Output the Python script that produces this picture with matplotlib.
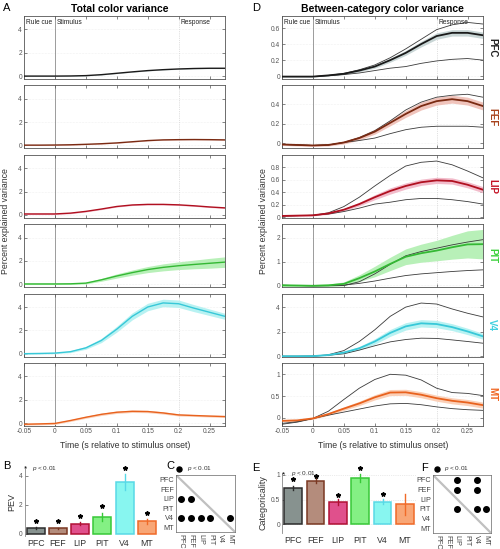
import numpy as np
import matplotlib
matplotlib.use("Agg")
import matplotlib.pyplot as plt

plt.rcParams['font.family'] = ['Liberation Sans', 'DejaVu Sans']
plt.rcParams['mathtext.fontset'] = 'custom'
plt.rcParams['mathtext.it'] = 'Liberation Sans:italic'
plt.rcParams['mathtext.rm'] = 'Liberation Sans'

# ---------------- data ----------------
areas = ["PFC", "FEF", "LIP", "PIT", "V4", "MT"]
t = [-0.05, -0.025, 0, 0.025, 0.05, 0.075, 0.1, 0.125, 0.15, 0.175, 0.2, 0.225, 0.25, 0.275]
xticks = [-0.05, 0, 0.05, 0.1, 0.15, 0.2, 0.25]
xticklabels = ["-0.05", "0", "0.05", "0.1", "0.15", "0.2", "0.25"]

# Panel A: total color variance (mean, sem)
tot_pfc = [0, 0, 0, 0.01, 0.04, 0.12, 0.24, 0.36, 0.47, 0.55, 0.61, 0.65, 0.67, 0.67]
tot_fef = [0.03, 0.03, 0.04, 0.06, 0.10, 0.15, 0.22, 0.32, 0.42, 0.48, 0.50, 0.51, 0.50, 0.48]
tot_lip = [0.08, 0.08, 0.08, 0.15, 0.30, 0.50, 0.72, 0.85, 0.90, 0.90, 0.86, 0.78, 0.68, 0.60]
tot_pit = [0.03, 0.03, 0.03, 0.04, 0.10, 0.38, 0.71, 1.00, 1.26, 1.45, 1.59, 1.70, 1.80, 1.90]
tot_v4 = [0, 0.02, 0.05, 0.17, 0.50, 1.13, 2.10, 3.20, 4.00, 4.35, 4.28, 3.90, 3.55, 3.20]
tot_mt = [-0.10, -0.07, -0.03, 0.22, 0.50, 0.75, 0.93, 1.01, 0.99, 0.87, 0.70, 0.65, 0.60, 0.56]
sem_pfc = [0.03, 0.03, 0.03, 0.03, 0.03, 0.03, 0.03, 0.03, 0.03, 0.03, 0.03, 0.03, 0.03, 0.03]
sem_fef = [0.03, 0.03, 0.03, 0.03, 0.03, 0.03, 0.03, 0.03, 0.03, 0.03, 0.03, 0.03, 0.03, 0.03]
sem_lip = [0.05, 0.05, 0.05, 0.05, 0.05, 0.05, 0.05, 0.05, 0.05, 0.05, 0.05, 0.05, 0.05, 0.05]
sem_pit = [0.05, 0.05, 0.05, 0.05, 0.07, 0.12, 0.18, 0.22, 0.26, 0.30, 0.33, 0.37, 0.42, 0.45]
sem_v4 = [0.05, 0.05, 0.05, 0.08, 0.12, 0.18, 0.25, 0.30, 0.32, 0.32, 0.32, 0.30, 0.28, 0.26]
sem_mt = [0.08, 0.08, 0.08, 0.08, 0.09, 0.10, 0.10, 0.10, 0.10, 0.10, 0.09, 0.08, 0.08, 0.08]

# Panel D: between-category color variance (mean, sem, upper and lower reference)
bc_pfc = [-0.005, -0.005, -0.005, 0.01, 0.03, 0.07, 0.12, 0.20, 0.29, 0.40, 0.50, 0.54, 0.54, 0.51]
bc_pfc_sem = [0.005, 0.005, 0.005, 0.006, 0.01, 0.015, 0.02, 0.025, 0.03, 0.035, 0.04, 0.04, 0.04, 0.04]
bc_pfc_hi = [-0.005, -0.005, -0.005, 0.01, 0.035, 0.08, 0.14, 0.23, 0.34, 0.46, 0.58, 0.64, 0.67, 0.65]
bc_pfc_lo = [-0.005, -0.005, -0.005, 0.005, 0.02, 0.04, 0.07, 0.10, 0.12, 0.16, 0.19, 0.21, 0.22, 0.20]

bc_fef = [-0.01, -0.015, -0.02, -0.015, 0.01, 0.055, 0.12, 0.21, 0.30, 0.38, 0.43, 0.45, 0.43, 0.38]
bc_fef_sem = [0.01, 0.01, 0.01, 0.01, 0.015, 0.02, 0.025, 0.03, 0.035, 0.04, 0.04, 0.04, 0.04, 0.04]
bc_fef_hi = [-0.01, -0.015, -0.02, -0.015, 0.01, 0.06, 0.13, 0.23, 0.34, 0.42, 0.47, 0.49, 0.50, 0.47]
bc_fef_lo = [-0.01, -0.015, -0.02, -0.015, 0.01, 0.03, 0.055, 0.10, 0.14, 0.165, 0.175, 0.175, 0.175, 0.165]

bc_lip = [0.02, 0.025, 0.03, 0.06, 0.12, 0.21, 0.32, 0.42, 0.50, 0.56, 0.59, 0.58, 0.52, 0.44]
bc_lip_sem = [0.01, 0.01, 0.01, 0.015, 0.02, 0.03, 0.04, 0.05, 0.05, 0.05, 0.05, 0.05, 0.05, 0.05]
bc_lip_hi = [0.02, 0.025, 0.03, 0.07, 0.17, 0.32, 0.50, 0.67, 0.82, 0.88, 0.90, 0.84, 0.74, 0.63]
bc_lip_lo = [0.02, 0.025, 0.03, 0.05, 0.09, 0.145, 0.21, 0.24, 0.28, 0.30, 0.30, 0.28, 0.25, 0.21]

bc_pit = [0.0, -0.01, -0.02, 0.0, 0.06, 0.30, 0.58, 0.90, 1.20, 1.35, 1.46, 1.60, 1.72, 1.73]
bc_pit_sem = [0.05, 0.05, 0.05, 0.05, 0.08, 0.14, 0.22, 0.28, 0.33, 0.38, 0.43, 0.50, 0.57, 0.62]
bc_pit_hi = [0.0, -0.01, -0.02, -0.02, -0.01, 0.15, 0.48, 0.88, 1.24, 1.42, 1.56, 1.70, 1.82, 1.92]
bc_pit_lo = [0.0, -0.01, -0.02, -0.01, 0.01, 0.08, 0.18, 0.30, 0.41, 0.48, 0.53, 0.58, 0.62, 0.65]

bc_v4 = [0, 0, 0.01, 0.10, 0.30, 0.65, 1.20, 1.90, 2.43, 2.68, 2.62, 2.37, 2.02, 1.62]
bc_v4_sem = [0.03, 0.03, 0.03, 0.05, 0.08, 0.14, 0.22, 0.28, 0.30, 0.30, 0.30, 0.28, 0.26, 0.24]
bc_v4_hi = [0, 0, 0.01, 0.12, 0.46, 1.20, 2.15, 3.25, 4.00, 4.33, 4.25, 3.85, 3.50, 3.20]
bc_v4_lo = [0, 0, 0.01, 0.08, 0.20, 0.50, 0.85, 1.17, 1.36, 1.47, 1.45, 1.33, 1.20, 1.06]

bc_mt = [-0.07, -0.06, -0.015, 0.085, 0.21, 0.33, 0.47, 0.58, 0.585, 0.53, 0.45, 0.39, 0.35, 0.29]
bc_mt_sem = [0.02, 0.02, 0.02, 0.03, 0.04, 0.05, 0.06, 0.07, 0.07, 0.07, 0.07, 0.07, 0.07, 0.07]
bc_mt_hi = [-0.13, -0.09, -0.015, 0.15, 0.42, 0.68, 0.88, 1.00, 0.98, 0.87, 0.68, 0.58, 0.56, 0.51]
bc_mt_lo = [-0.15, -0.10, -0.02, 0.06, 0.13, 0.20, 0.27, 0.32, 0.33, 0.30, 0.25, 0.21, 0.185, 0.17]

# Panel B: PEV bars
pev = [0.40, 0.38, 0.70, 1.15, 3.60, 0.85]
pev_err = [0.05, 0.05, 0.10, 0.30, 0.55, 0.20]
pev_star = [0.85, 0.85, 1.20, 1.90, 4.50, 1.40]

# Panel E: categoricality bars
cat = [0.74, 0.88, 0.45, 0.94, 0.46, 0.40]
cat_err = [0.04, 0.05, 0.06, 0.08, 0.06, 0.22]
cat_star = [0.92, 0.98, 0.60, 1.15, 0.62, None]

# Panels C and F: significant pairwise differences (row area, column area)
sig_c = [("LIP", "PFC"), ("LIP", "FEF"), ("V4", "PFC"), ("V4", "FEF"), ("V4", "LIP"), ("V4", "PIT"), ("V4", "MT")]
sig_f = [("PFC", "LIP"), ("PFC", "V4"), ("FEF", "LIP"), ("FEF", "V4"), ("PIT", "LIP"), ("PIT", "V4"), ("PIT", "MT")]

# ---------------- styles ----------------
line_col = ["#1a1a1a", "#7a2a12", "#b01020", "#34b834", "#38c8d8", "#e8621e"]
band_col = ["#c9d6d6", "#f0c4bc", "#f2bccb", "#b8f0b8", "#b8f2f2", "#fbd0b8"]
label_col = ["#222222", "#a8421c", "#c41224", "#3cd03c", "#40d0e0", "#f06420"]
bar_face = ["#87928f", "#b48c7c", "#e0508c", "#84f084", "#88f6f0", "#f8a676"]
bar_edge = ["#2c2c2c", "#7a3822", "#b01034", "#38c838", "#58d8e6", "#f06a28"]

W, H = 500.0, 549.0
fig = plt.figure(figsize=(5, 5.49), dpi=100)


def rect(x0, y0, x1, y1):
    return [x0 / W, 1 - y1 / H, (x1 - x0) / W, (y1 - y0) / H]


def style_ts(ax, ylim, yticks, yticklabels, last):
    ax.set_xlim(-0.05, 0.275)
    ax.set_ylim(*ylim)
    ax.set_xticks(xticks)
    ax.set_yticks(yticks)
    ax.set_yticklabels(yticklabels)
    if last:
        ax.set_xticklabels(xticklabels)
    else:
        ax.set_xticklabels([])
    ax.tick_params(direction='in', top=True, right=True, length=2.2, width=0.5,
                   colors='#555555', labelsize=4.8, pad=1.5)
    for s in ax.spines.values():
        s.set_color('#555555')
        s.set_linewidth(0.6)
    for yv in yticks:
        ax.axhline(yv, color='#e4e4e4', lw=0.4, ls=':', zorder=0)
    ax.axvline(0, color='#8c8c8c', lw=0.6, zorder=1)
    ax.axvline(0.2, color='#c4c4c4', lw=0.5, ls=':', zorder=1)


tot = [(tot_pfc, sem_pfc), (tot_fef, sem_fef), (tot_lip, sem_lip),
       (tot_pit, sem_pit), (tot_v4, sem_v4), (tot_mt, sem_mt)]
bc = [(bc_pfc, bc_pfc_sem, bc_pfc_hi, bc_pfc_lo), (bc_fef, bc_fef_sem, bc_fef_hi, bc_fef_lo),
      (bc_lip, bc_lip_sem, bc_lip_hi, bc_lip_lo), (bc_pit, bc_pit_sem, bc_pit_hi, bc_pit_lo),
      (bc_v4, bc_v4_sem, bc_v4_hi, bc_v4_lo), (bc_mt, bc_mt_sem, bc_mt_hi, bc_mt_lo)]

bc_ylims = [(-0.035, 0.75), (-0.05, 0.59), (-0.01, 1.0), (-0.08, 2.57), (-0.03, 5.1), (-0.19, 1.26)]
bc_yticks = [[0, 0.2, 0.4, 0.6], [0, 0.2, 0.4], [0, 0.2, 0.4, 0.6, 0.8], [0, 1, 2], [0, 2, 4], [0, 0.5, 1]]
bc_yticklabels = [["0", "0.2", "0.4", "0.6"], ["0", "0.2", "0.4"], ["0", "0.2", "0.4", "0.6", "0.8"],
                  ["0", "1", "2"], ["0", "2", "4"], ["0", "0.5", "1"]]

tt = np.array(t)
for i in range(6):
    top = 16 + i * 69.4
    bot = top + 63
    # left column
    axl = fig.add_axes(rect(24, top, 225, bot))
    m = np.array(tot[i][0]); s = np.array(tot[i][1])
    axl.fill_between(tt, m - s, m + s, color=band_col[i], lw=0, zorder=2)
    axl.plot(tt, m, color=line_col[i], lw=1.0, zorder=3)
    style_ts(axl, (-0.25, 5.15), [0, 2, 4], ["0", "2", "4"], i == 5)
    # right column
    axr = fig.add_axes(rect(282, top, 483, bot))
    m, s, hi, lo = [np.array(a) for a in bc[i]]
    axr.fill_between(tt, m - s, m + s, color=band_col[i], lw=0, zorder=2)
    axr.plot(tt, hi, color='#3a3a3a', lw=0.6, zorder=3)
    axr.plot(tt, lo, color='#3a3a3a', lw=0.6, zorder=3)
    axr.plot(tt, m, color=line_col[i], lw=1.3, zorder=4)
    style_ts(axr, bc_ylims[i], bc_yticks[i], bc_yticklabels[i], i == 5)
    fig.text(492 / W, 1 - (top + 31.5) / H, areas[i], rotation=270, color=label_col[i],
             fontsize=7, fontweight='bold', ha='center', va='center', rotation_mode='anchor'
             if False else 'default')
    if i == 0:
        for ax in (axl, axr):
            yl = ax.get_ylim()
            ypos = yl[1] - 0.11 * (yl[1] - yl[0])
            ax.text(-0.0475, ypos, "Rule cue", fontsize=4.8, color='#222', va='center')
            ax.text(0.003, ypos, "Stimulus", fontsize=4.8, color='#222', va='center')
            ax.text(0.203, ypos, "Response", fontsize=4.8, color='#222', va='center')

fig.text(120 / W, 1 - 8.5 / H, "Total color variance", fontsize=7.5, fontweight='bold',
         ha='center', va='center')
fig.text(382 / W, 1 - 8.5 / H, "Between-category color variance", fontsize=7.5, fontweight='bold',
         ha='center', va='center')
fig.text(125 / W, 1 - 446 / H, "Time (s relative to stimulus onset)", fontsize=6.3,
         ha='center', va='center', color='#333')
fig.text(383 / W, 1 - 446 / H, "Time (s relative to stimulus onset)", fontsize=6.3,
         ha='center', va='center', color='#333')
fig.text(6 / W, 1 - 221 / H, "Percent explained variance", fontsize=6.3, rotation=90,
         ha='center', va='center', color='#333')
fig.text(263 / W, 1 - 221 / H, "Percent explained variance", fontsize=6.3, rotation=90,
         ha='center', va='center', color='#333')

for lab, x, y in [("A", 3, 8), ("D", 252, 8), ("B", 3, 466), ("C", 166, 466), ("E", 252, 468), ("F", 421, 468)]:
    fig.text(x / W, 1 - y / H, lab, fontsize=8, ha='left', va='center')


# ---------------- bar panels ----------------
def bar_panel(r, vals, errs, stars, ylim, yticks, yticklabels, ylabel, grid):
    ax = fig.add_axes(rect(*r))
    x = np.arange(1, 7)
    for k in range(6):
        ax.bar(x[k], vals[k], width=0.8, color=bar_face[k], edgecolor=bar_edge[k], lw=1.1, zorder=2)
        ax.plot([x[k], x[k]], [vals[k] - errs[k], vals[k] + errs[k]], color=bar_edge[k], lw=1.0, zorder=3)
        if stars[k] is not None:
            ax.plot(x[k], stars[k], marker='*', ms=3.2, color='k', clip_on=False, zorder=4)
    ax.set_xlim(0.5, 6.5)
    ax.set_ylim(*ylim)
    ax.set_xticks(x)
    ax.set_xticklabels(areas, fontsize=6.3, color='#333')
    ax.set_yticks(yticks)
    ax.set_yticklabels(yticklabels)
    ax.tick_params(axis='y', direction='in', length=2, width=0.5, colors='#555', labelsize=4.8, pad=1.5)
    ax.tick_params(axis='x', length=0, pad=2)
    for k in ('top', 'right', 'bottom'):
        ax.spines[k].set_visible(False)
    ax.spines['left'].set_color('#888')
    ax.spines['left'].set_linewidth(0.6)
    if grid:
        for yv in yticks:
            ax.axhline(yv, color='#d8d8d8', lw=0.5, ls=':', zorder=0)
    ax.set_ylabel(ylabel, fontsize=6.5, color='#333', labelpad=2)
    return ax


axb = bar_panel((24.5, 468, 158, 536), pev, pev_err, pev_star, (-0.15, 4.53), [0, 2, 4],
                ["0", "2", "4"], "PEV", False)
axe = bar_panel((282, 473, 416, 533), cat, cat_err, cat_star, (-0.18, 1.04), [0, 0.5, 1],
                ["0", "0.5", "1"], "Categoricality", True)

fig.text(25 / W, 1 - 469 / H, "*", fontsize=6, ha='center', va='center')
fig.text(32 / W, 1 - 468.5 / H, r"$\it{p}$ < 0.01", fontsize=4.6, ha='left', va='center', color='#333')
fig.text(284 / W, 1 - 474.5 / H, "*", fontsize=6, ha='center', va='center')
fig.text(291 / W, 1 - 474 / H, r"$\it{p}$ < 0.01,", fontsize=4.6, ha='left', va='center', color='#333')


# ---------------- matrix panels ----------------
def matrix_panel(r, sig, dot_x, dot_y):
    ax = fig.add_axes(rect(*r))
    ax.set_xlim(0.5, 6.5)
    ax.set_ylim(6.5, 0.5)
    ax.plot([0.5, 6.5], [0.5, 6.5], color='#c0c0c0', lw=1.6, zorder=1)
    xs = [areas.index(c) + 1 for (rw, c) in sig]
    ys = [areas.index(rw) + 1 for (rw, c) in sig]
    ax.scatter(xs, ys, s=16, color='k', zorder=3)
    ax.set_xticks(range(1, 7))
    ax.set_yticks(range(1, 7))
    ax.set_xticklabels(areas, rotation=270, fontsize=5.2, color='#444')
    ax.set_yticklabels(areas, fontsize=5.2, color='#444')
    ax.tick_params(length=0, pad=1.5)
    for s in ax.spines.values():
        s.set_color('#666')
        s.set_linewidth(0.5)
    fig.add_artist(plt.Line2D([dot_x / W], [1 - dot_y / H], marker='o', ms=3.6, color='k', lw=0))
    fig.text((dot_x + 8) / W, 1 - dot_y / H, r"$\it{p}$ < 0.01", fontsize=4.6, ha='left',
             va='center', color='#333')
    return ax


matrix_panel((176, 475, 235, 532), sig_c, 179, 468.5)
matrix_panel((433, 475, 491, 533), sig_f, 436.5, 468.5)

fig.savefig("out.png", dpi=100)
